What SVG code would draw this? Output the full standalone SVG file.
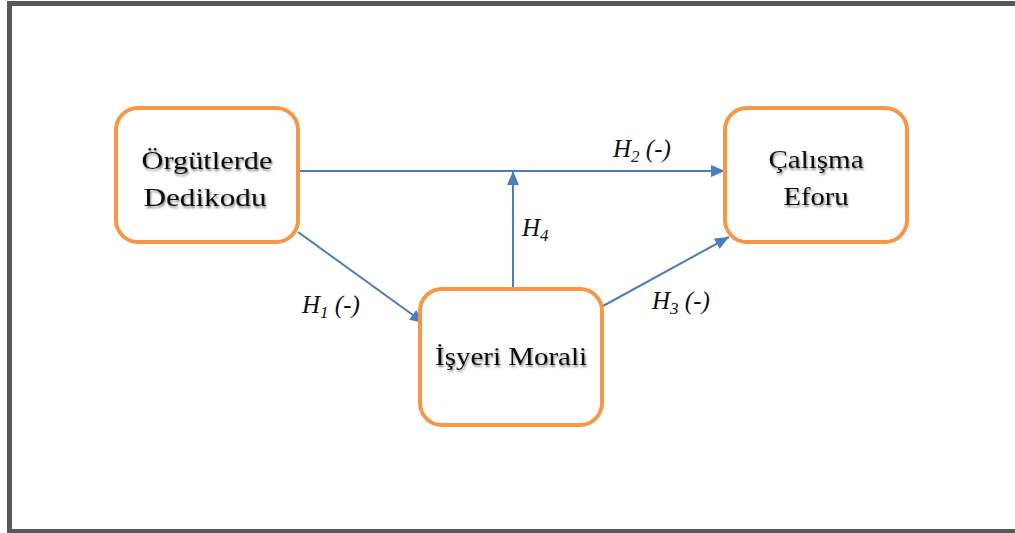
<svg xmlns="http://www.w3.org/2000/svg" width="1015" height="533" viewBox="0 0 1015 533">
<defs>
<style>
.box{fill:#fff;stroke:#F79646;stroke-width:4}
.lbl{font-family:"Liberation Serif","DejaVu Serif",serif;font-size:26px;fill:#111;text-anchor:middle}
.hyp{font-family:"Liberation Serif","DejaVu Serif",serif;font-size:25px;font-style:italic;fill:#111}
.sub{font-size:17px}
.con{stroke:#4A7EBB;stroke-width:2;fill:none}
</style>
<marker id="arr" viewBox="0 0 14 12" refX="14" refY="6" markerWidth="14" markerHeight="12" markerUnits="userSpaceOnUse" orient="auto">
<path d="M0,0 L14,6 L0,12 Z" fill="#4A7EBB"/>
</marker>
<filter id="sh" x="-10%" y="-30%" width="120%" height="160%">
<feGaussianBlur in="SourceAlpha" stdDeviation="1.2"/>
<feOffset dx="1" dy="1.5" result="b"/>
<feComponentTransfer><feFuncA type="linear" slope="0.5"/></feComponentTransfer>
<feMerge><feMergeNode/><feMergeNode in="SourceGraphic"/></feMerge>
</filter>
</defs>
<rect x="9.5" y="3.5" width="1020" height="528" fill="#fff" stroke="#595959" stroke-width="5"/>
<g id="connectors">
<line class="con" x1="299" y1="171" x2="725" y2="171" marker-end="url(#arr)"/>
<line class="con" x1="513" y1="290" x2="513" y2="171" marker-end="url(#arr)"/>
<line class="con" x1="298" y1="232" x2="424" y2="323" marker-end="url(#arr)"/>
<line class="con" x1="603" y1="306" x2="729" y2="237" marker-end="url(#arr)"/>
</g>
<g id="node-orgutlerde">
<rect class="box" x="116" y="108" width="182" height="134" rx="22"/>
<text class="lbl" filter="url(#sh)"><tspan x="207" y="169" textLength="131" lengthAdjust="spacingAndGlyphs">Örgütlerde</tspan><tspan x="205" y="206" textLength="123" lengthAdjust="spacingAndGlyphs">Dedikodu</tspan></text>
</g>
<g id="node-calisma">
<rect class="box" x="725" y="108" width="182" height="134" rx="22"/>
<text class="lbl" filter="url(#sh)"><tspan x="816" y="168" textLength="95" lengthAdjust="spacingAndGlyphs">Çalışma</tspan><tspan x="816" y="205" textLength="65" lengthAdjust="spacingAndGlyphs">Eforu</tspan></text>
</g>
<g id="node-isyeri">
<rect class="box" x="420" y="289" width="182" height="136" rx="22"/>
<text class="lbl" filter="url(#sh)" x="511" y="365" textLength="152" lengthAdjust="spacingAndGlyphs">İşyeri Morali</text>
</g>
<g id="labels">
<text class="hyp" x="613" y="157">H<tspan class="sub" dy="5">2</tspan><tspan dy="-5"> (-)</tspan></text>
<text class="hyp" x="522" y="236">H<tspan class="sub" dy="5">4</tspan></text>
<text class="hyp" x="302" y="313">H<tspan class="sub" dy="5">1</tspan><tspan dy="-5"> (-)</tspan></text>
<text class="hyp" x="652" y="309">H<tspan class="sub" dy="5">3</tspan><tspan dy="-5"> (-)</tspan></text>
</g>
</svg>
